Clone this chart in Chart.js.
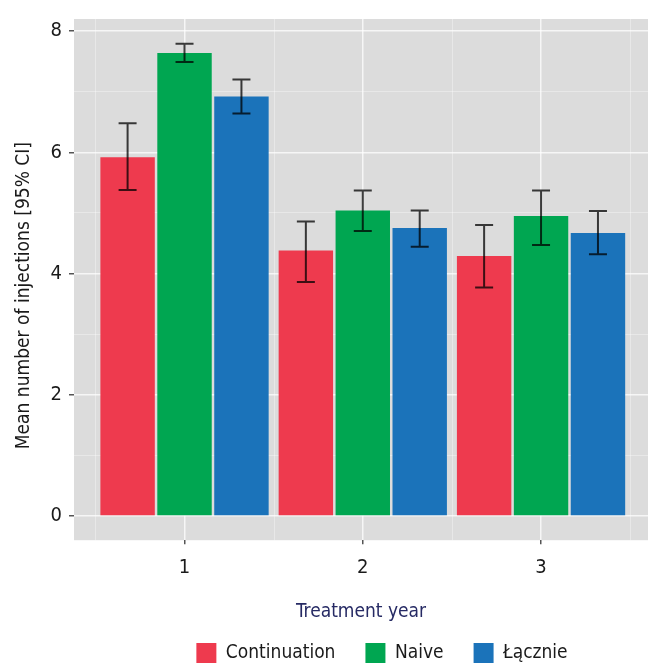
<!DOCTYPE html>
<html><head><meta charset="utf-8">
<script src="https://cdn.jsdelivr.net/npm/chart.js@4"></script>
<style>html,body{margin:0;padding:0;background:#fff}#wrap{width:648px;height:664px;position:relative}</style>
</head><body><div id="wrap"><canvas id="c"></canvas></div>
<script>
const years = [1, 2, 3];
const seriesNames = ['Continuation', 'Naive', 'Łącznie'];
const continuationMean = [5.92, 4.38, 4.29];
const continuationLow = [5.38, 3.86, 3.77];
const continuationHigh = [6.48, 4.86, 4.80];
const naiveMean = [7.64, 5.04, 4.95];
const naiveLow = [7.49, 4.70, 4.47];
const naiveHigh = [7.79, 5.37, 5.37];
const lacznieMean = [6.92, 4.75, 4.67];
const lacznieLow = [6.64, 4.44, 4.32];
const lacznieHigh = [7.20, 5.04, 5.03];
const yTickLabels = [0, 2, 4, 6, 8];
const xTickLabels = [1, 2, 3];
const xMinorGrid = [0.5, 1.5, 2.5, 3.5];
const yAxisTitle = 'Mean number of injections [95% CI]';
const xAxisTitle = 'Treatment year';

const FONT = "'Liberation Sans Narrow', 'DejaVu Sans Condensed', 'Roboto Condensed', sans-serif";
const colors = ['#EE3A4E', '#00A651', '#1B73BA'];
const means = [continuationMean, naiveMean, lacznieMean];
const lows = [continuationLow, naiveLow, lacznieLow];
const highs = [continuationHigh, naiveHigh, lacznieHigh];

const panelBg = {
  id: 'panelBg',
  afterLayout(chart) {
    if (chart.legend) { chart.legend.left += 58; chart.legend.right += 58; }
  },
  beforeDraw(chart) {
    const a = chart.chartArea, ctx = chart.ctx;
    ctx.save();
    ctx.fillStyle = '#DCDCDC';
    ctx.fillRect(a.left, a.top, a.right - a.left, a.bottom - a.top);
    ctx.restore();
  },
  beforeDatasetsDraw(chart) {
    const a = chart.chartArea, ctx = chart.ctx, xs = chart.scales.x;
    ctx.save();
    ctx.strokeStyle = 'rgba(255,255,255,0.35)';
    ctx.lineWidth = 1;
    xMinorGrid.forEach(v => {
      const px = Math.round(xs.getPixelForValue(v)) + 0.5;
      ctx.beginPath(); ctx.moveTo(px, a.top); ctx.lineTo(px, a.bottom); ctx.stroke();
    });
    ctx.restore();
  },
  afterDraw(chart) {
    const a = chart.chartArea, ctx = chart.ctx;
    ctx.save();
    ctx.font = '19px ' + FONT;
    ctx.fillStyle = '#1a1a1a';
    ctx.textAlign = 'center';
    ctx.textBaseline = 'middle';
    ctx.translate(24, (a.top + a.bottom) / 2 + 16);
    ctx.rotate(-Math.PI / 2);
    ctx.fillText(yAxisTitle, 0, 0);
    ctx.restore();
  }
};
const errorBars = {
  id: 'errorBars',
  afterDatasetsDraw(chart) {
    const ctx = chart.ctx, y = chart.scales.y;
    ctx.save();
    ctx.strokeStyle = 'rgba(0,0,0,0.75)';
    ctx.lineWidth = 2;
    chart.data.datasets.forEach((ds, d) => {
      const meta = chart.getDatasetMeta(d);
      meta.data.forEach((el, i) => {
        const x = el.x, yl = y.getPixelForValue(lows[d][i]), yh = y.getPixelForValue(highs[d][i]);
        const hw = 9;
        ctx.beginPath();
        ctx.moveTo(x, yl); ctx.lineTo(x, yh);
        ctx.moveTo(x - hw, yl); ctx.lineTo(x + hw, yl);
        ctx.moveTo(x - hw, yh); ctx.lineTo(x + hw, yh);
        ctx.stroke();
      });
    });
    ctx.restore();
  }
};

new Chart(document.getElementById('c'), {
  type: 'bar',
  data: {
    datasets: seriesNames.map((name, d) => ({
      label: name,
      data: years.map((x, i) => ({ x: x, y: means[d][i] })),
      backgroundColor: colors[d],
      borderWidth: 0,
      categoryPercentage: 0.958,
      barPercentage: 0.956
    }))
  },
  options: {
    responsive: true,
    maintainAspectRatio: false,
    animation: false,
    layout: { padding: { top: 16, right: 0, left: 0, bottom: -9 } },
    scales: {
      x: {
        type: 'linear',
        offset: false,
        min: 0.38, max: 3.6,
        ticks: {
          stepSize: 1, includeBounds: false, autoSkip: false, maxRotation: 0,
          padding: 12,
          font: { family: FONT, size: 20 }, color: '#1a1a1a',
          callback: v => xTickLabels.includes(v) ? String(v) : ''
        },
        grid: {
          offset: false,
          color: 'rgba(255,255,255,0.75)',
          lineWidth: 1.5,
          tickColor: '#555',
          tickLength: 4
        },
        border: { display: false },
        title: { display: true, text: xAxisTitle, color: '#262A64', font: { family: FONT, size: 19 }, padding: { top: 8, bottom: -10 } }
      },
      y: {
        min: -0.40, max: 8.20,
        ticks: {
          stepSize: 1, includeBounds: false, autoSkip: false,
          padding: 7,
          font: { family: FONT, size: 20 }, color: '#1a1a1a',
          callback: v => yTickLabels.includes(v) ? String(v) : ''
        },
        grid: {
          color: c => (c.tick && c.tick.value % 2 === 0) ? 'rgba(255,255,255,0.75)' : 'rgba(255,255,255,0.35)',
          lineWidth: c => (c.tick && c.tick.value % 2 === 0) ? 1.5 : 1,
          tickColor: c => (c.tick && c.tick.value % 2 === 0) ? '#555' : 'rgba(0,0,0,0)',
          tickLength: 5
        },
        border: { display: false },
        title: { display: false },
        afterFit(scale) { scale.width = 74; }
      }
    },
    plugins: {
      legend: {
        position: 'bottom',
        labels: { boxWidth: 20, boxHeight: 20, padding: 30, color: '#1a1a1a', font: { family: FONT, size: 19 } }
      },
      tooltip: { enabled: false }
    }
  },
  plugins: [panelBg, errorBars]
});
</script></body></html>
